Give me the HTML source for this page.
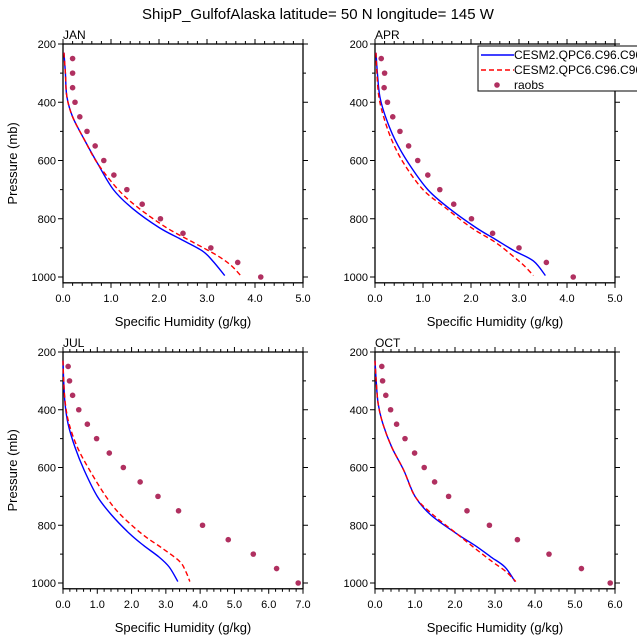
<!DOCTYPE html>
<html><head><meta charset="utf-8"><style>
html,body{margin:0;padding:0;background:#fff;}
svg{display:block;font-family:"Liberation Sans",Arial,sans-serif;}
</style></head><body>
<svg id="c" width="637" height="639" viewBox="0 0 637 639">
<text x="318" y="19" text-anchor="middle" font-size="15">ShipP_GulfofAlaska  latitude= 50 N longitude= 145 W</text>
</svg>
<script>
const months = ["JAN","APR","JUL","OCT"];
const xMaxes = [5,5,7,6];
const raobP = [250,300,350,400,450,500,550,600,650,700,750,800,850,900,950,1000];
const raobJAN = [0.2,0.2,0.2,0.25,0.35,0.5,0.67,0.85,1.06,1.33,1.65,2.03,2.5,3.08,3.64,4.12];
const raobAPR = [0.13,0.2,0.19,0.26,0.37,0.52,0.7,0.89,1.1,1.35,1.64,2.01,2.45,3.0,3.57,4.13];
const raobJUL = [0.15,0.19,0.28,0.46,0.71,0.98,1.35,1.76,2.25,2.77,3.37,4.07,4.82,5.55,6.23,6.86];
const raobOCT = [0.17,0.19,0.27,0.39,0.54,0.75,0.99,1.23,1.49,1.84,2.3,2.86,3.56,4.35,5.16,5.88];
const blueP = [230,300,380,450,530,610,700,765,830,870,910,945,995];
const blueJAN = [0.02,0.05,0.08,0.2,0.45,0.72,1.05,1.45,2.0,2.45,2.9,3.12,3.37];
const blueAPR = [0.02,0.05,0.1,0.22,0.42,0.7,1.1,1.55,2.1,2.5,2.9,3.3,3.55];
const blueJUL = [0.0,0.02,0.06,0.15,0.35,0.62,1.0,1.42,1.95,2.35,2.8,3.1,3.35];
const blueOCT = [0.0,0.03,0.08,0.2,0.42,0.72,1.0,1.4,2.05,2.5,2.9,3.25,3.5];
const redP = [230,300,380,450,530,610,700,760,830,880,925,960,995];
const redJAN = [0.02,0.05,0.08,0.2,0.45,0.72,1.15,1.55,2.15,2.7,3.2,3.5,3.7];
const redAPR = [0.02,0.04,0.08,0.18,0.35,0.6,1.0,1.45,2.0,2.5,2.85,3.1,3.3];
const redJUL = [0.0,0.02,0.07,0.18,0.42,0.78,1.25,1.65,2.3,2.9,3.4,3.58,3.7];
const redOCT = [0.0,0.03,0.08,0.2,0.42,0.72,1.0,1.42,2.05,2.5,2.92,3.27,3.52];
const xTicks = [0,1,2,3,4,5,6,7];
const yTicks = [200,400,600,800,1000];
const raobs = [raobJAN,raobAPR,raobJUL,raobOCT];
const blues = [blueJAN,blueAPR,blueJUL,blueOCT];
const reds = [redJAN,redAPR,redJUL,redOCT];

const NS="http://www.w3.org/2000/svg";
const svg=document.getElementById('c');
function mk(t,a,p){const e=document.createElementNS(NS,t);for(const k in a)e.setAttribute(k,a[k]);(p||svg).appendChild(e);return e;}
function smooth(pts){
  let d='M'+pts[0][0]+','+pts[0][1];
  for(let i=0;i<pts.length-1;i++){
    const p0=pts[i-1]||pts[i],p1=pts[i],p2=pts[i+1],p3=pts[i+2]||p2;
    const c1=[p1[0]+(p2[0]-p0[0])/6,p1[1]+(p2[1]-p0[1])/6];
    const c2=[p2[0]-(p3[0]-p1[0])/6,p2[1]-(p3[1]-p1[1])/6];
    d+=` C${c1[0]},${c1[1]} ${c2[0]},${c2[1]} ${p2[0]},${p2[1]}`;
  }
  return d;
}
const boxes=[[63,303,44,277],[375,615,44,277],[63,303,352,583],[375,615,352,583]];
months.forEach((m,i)=>{
  const [L,R,T,B]=boxes[i];
  const xm=xMaxes[i];
  const sx=v=>L+(R-L)*v/xm;
  const sy=p=>T+(B-T)*(p-200)/800;
  const bottom=sy(1020);
  const g=mk('g',{});
  
  
  const r=mk('rect',{x:L,y:T,width:R-L,height:bottom-T,fill:'none',stroke:'#000','stroke-width':1.3},g);
  
  const t=mk('text',{x:L,y:T-5,'font-size':12},g);t.textContent=m;
  
  for(let v=0;v<=xm+1e-9;v+=0.2){
    const major=Math.abs(v-Math.round(v))<1e-6;const x=sx(v);const len=major?5:3;
    mk('line',{x1:x,y1:bottom,x2:x,y2:bottom+len,stroke:'#000','stroke-width':1},g);
    mk('line',{x1:x,y1:T,x2:x,y2:T-len,stroke:'#000','stroke-width':1},g);
  }
  xTicks.filter(v=>v<=xm).forEach(v=>{
    const tx=mk('text',{x:sx(v),y:bottom+19,'font-size':11,'text-anchor':'middle'},g);
    tx.textContent=v.toFixed(1);
    
  });
  for(let p=200;p<=1000;p+=100){
    const major=p%200===0;const y=sy(p);const len=major?5:3;
    mk('line',{x1:L,y1:y,x2:L-len,y2:y,stroke:'#000','stroke-width':1},g);
    mk('line',{x1:R,y1:y,x2:R+len,y2:y,stroke:'#000','stroke-width':1},g);
  }
  yTicks.forEach(p=>{
    const ty=mk('text',{x:L-7,y:sy(p)+4,'font-size':11,'text-anchor':'end'},g);
    ty.textContent=p;
    
  });
  const xl=mk('text',{x:(L+R)/2,y:bottom+43,'font-size':13,'text-anchor':'middle'},g);
  xl.textContent='Specific Humidity (g/kg)';
  
  if(i%2===0){
    const cy=(T+bottom)/2;
    const yl=mk('text',{x:17,y:cy,'font-size':13,'text-anchor':'middle',transform:`rotate(-90 17 ${cy})`},g);
    yl.textContent='Pressure (mb)';
    
  }
  const bl=mk('path',{d:smooth(blues[i].map((v,k)=>[sx(v),sy(blueP[k])])),fill:'none',stroke:'#0000ff','stroke-width':1.4},g);
  
  const rl=mk('path',{d:smooth(reds[i].map((v,k)=>[sx(v),sy(redP[k])])),fill:'none',stroke:'#ff0000','stroke-width':1.4,'stroke-dasharray':'5,3'},g);
  
  raobs[i].forEach((v,k)=>{
    const c=mk('circle',{cx:sx(v),cy:sy(raobP[k]),r:2.8,fill:'#b03060'},g);
    
  });
});
const lg=mk('g',{});

mk('rect',{x:478,y:46,width:165,height:45,fill:'#fff',stroke:'#000','stroke-width':1},lg);
mk('line',{x1:481,y1:55,x2:514,y2:55,stroke:'#0000ff','stroke-width':1.4},lg);
mk('line',{x1:481,y1:70,x2:514,y2:70,stroke:'#ff0000','stroke-width':1.4,'stroke-dasharray':'5,3'},lg);
mk('circle',{cx:497,cy:85,r:2.8,fill:'#b03060'},lg);
[['CESM2.QPC6.C96.C96',59],['CESM2.QPC6.C96.C96',74],['raobs',89]].forEach(([s,y])=>{
  const t=mk('text',{x:514,y:y,'font-size':12},lg);t.textContent=s;
  
});
</script>
</body></html>
